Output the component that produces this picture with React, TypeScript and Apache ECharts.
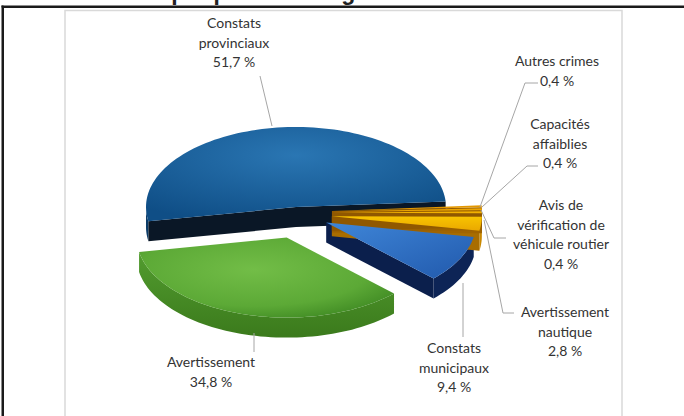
import React, { useEffect, useRef } from "react";
import * as echarts from "echarts";

// ---- Data ----
const categories = [
  "Constats\nprovinciaux",
  "Avertissement",
  "Constats\nmunicipaux",
  "Avertissement\nnautique",
  "Avis de\nvérification de\nvéhicule routier",
  "Capacités\naffaiblies",
  "Autres crimes",
];
const values = [51.7, 34.8, 9.4, 2.8, 0.4, 0.4, 0.4];
const titleText = "Graphique 4 – Catégories de constats";

// ---- Styles (not data) ----
const topFills: any[] = [
  { type: "radial", x: 0.5, y: 0.3, r: 0.75, colorStops: [{ offset: 0, color: "#2a76b3" }, { offset: 1, color: "#0f4e86" }] },
  { type: "radial", x: 0.45, y: 0.4, r: 0.65, colorStops: [{ offset: 0, color: "#72bd47" }, { offset: 0.7, color: "#5ca936" }, { offset: 1, color: "#428d25" }] },
  { type: "linear", x: 0, y: 0, x2: 1, y2: 1, colorStops: [{ offset: 0, color: "#3f86d8" }, { offset: 1, color: "#2159ac" }] },
  { type: "linear", x: 0, y: 0, x2: 0, y2: 1, colorStops: [{ offset: 0, color: "#f8c400" }, { offset: 1, color: "#eaa800" }] },
  "#f2b000",
  "#eca400",
  "#e49800",
];
const cutFills = ["#0a1726", "#2d5e18", "#0b1f4c", "#a86d00", "#a06400", "#9a6000", "#905800"];
const wallFills: any[] = [
  "#0c3c68",
  { type: "linear", x: 0, y: 0, x2: 0, y2: 1, colorStops: [{ offset: 0, color: "#529c2f" }, { offset: 1, color: "#3b7a1c" }] },
  "#0d2456",
  "#c98800",
  "#c07e00",
  "#b87600",
  "#b06e00",
];
const explode = [0, 32, 34, 36, 36, 36, 36];
const sag = [0, 0, 0, 6, 6, 6, 6];
const CX = 296, CY = 207, RX = 150, RY = 80, DEPTH = 20, START = 4;

// label positions (center x, top y) and leader lines
const labelPos = [
  { x: 234, y: 13, line: [[260, 76], [272, 126]] },
  { x: 211, y: 352, line: [[254, 333], [254, 352]] },
  { x: 454, y: 338, line: [[463, 283], [463, 337]] },
  { x: 565, y: 302, line: [[484, 220], [503, 313], [514, 313]] },
  { x: 561, y: 195, line: [[481, 210], [494, 238], [506, 238]] },
  { x: 560, y: 114, line: [[538, 166], [527, 166], [482, 207]] },
  { x: 557, y: 51, line: [[538, 83], [525, 83], [480, 207]] },
];

const fmt = (v: number) => v.toFixed(1).replace(".", ",") + " %";
const FONT = 'Lato, "Open Sans", sans-serif';

export default function App() {
  const ref = useRef<HTMLDivElement>(null);
  useEffect(() => {
    if (!ref.current) return;
    const chart = echarts.init(ref.current, null, { renderer: "svg" });
    const total = values.reduce((a, b) => a + b, 0);
    const rad = Math.PI / 180;

    const renderItem = (params: any, api: any) => {
      const i = params.dataIndex;
      const v = api.value(0);
      let acc = 0;
      for (let j = 0; j < i; j++) acc += values[j];
      const a0 = START + (acc / total) * 360;
      const a1 = a0 + (v / total) * 360;
      const mid = ((a0 + a1) / 2) * rad;
      const ox = CX + explode[i] * Math.cos(mid);
      const oy = CY - explode[i] * Math.sin(mid) + sag[i];
      const front = Math.round(-Math.sin(mid) * 5);
      const pt = (deg: number, dz = 0) => [ox + RX * Math.cos(deg * rad), oy - RY * Math.sin(deg * rad) + dz];
      const arcPts = (s: number, e: number, dz = 0) => {
        const n = Math.max(2, Math.ceil(Math.abs(e - s) / 2));
        const out: number[][] = [];
        for (let k = 0; k <= n; k++) out.push(pt(s + ((e - s) * k) / n, dz));
        return out;
      };
      const children: any[] = [];
      const intervals = [[-180, 0], [180, 360], [540, 720]];
      intervals.forEach(([lo, hi]) => {
        const s = Math.max(a0, lo), e = Math.min(a1, hi);
        if (e > s) {
          const pts = arcPts(s, e).concat(arcPts(e, s, DEPTH));
          children.push({ type: "polygon", z2: 1, shape: { points: pts }, style: { fill: wallFills[i] } });
        }
      });
      const addCut = (deg: number, normalDeg: number) => {
        if (Math.sin(normalDeg * rad) < 0) {
          const p = pt(deg);
          children.push({
            type: "polygon",
            z2: 2,
            shape: { points: [[ox, oy], p, [p[0], p[1] + DEPTH], [ox, oy + DEPTH]] },
            style: { fill: cutFills[i] },
          });
        }
      };
      addCut(a0, a0 - 90);
      addCut(a1, a1 + 90);
      const topPts = [[ox, oy]].concat(arcPts(a0, a1));
      children.push({ type: "polygon", z2: 20 + front, shape: { points: topPts }, style: { fill: topFills[i] } });
      return { type: "group", children };
    };

    const graphics: any[] = [
      {
        id: "title",
        type: "text",
        z: 1,
        style: {
          text: titleText,
          x: 338,
          y: -8,
          align: "center",
          textAlign: "center",
          verticalAlign: "middle",
          textVerticalAlign: "middle",
          font: 'bold 23px "Liberation Sans", Arial, sans-serif',
          fill: "#222",
        },
      },
      {
        id: "frameTop",
        type: "polygon",
        z: 2,
        shape: { points: [[1.5, 5.5], [684, 5.5], [684, 7.5], [1.5, 7.5]] },
        style: { fill: "#1a1a1a" },
      },
      {
        id: "frameLeft",
        type: "polygon",
        z: 2,
        shape: { points: [[1.5, 5.5], [3.5, 5.5], [3.5, 416], [1.5, 416]] },
        style: { fill: "#1a1a1a" },
      },
      {
        id: "innerBox",
        type: "rect",
        z: 1,
        shape: { x: 65, y: 10.5, width: 557, height: 430 },
        style: { fill: "none", stroke: "#d9d9d9", lineWidth: 1.5 },
      },
    ];
    categories.forEach((c, i) => {
      const lp = labelPos[i];
      graphics.push({
        id: "leader" + i,
        type: "polyline",
        z: 3,
        shape: { points: lp.line },
        style: { fill: "none", stroke: "#a6a6a6", lineWidth: 1 },
      });
      graphics.push({
        id: "label" + i,
        type: "text",
        z: 3,
        style: {
          text: c + "\n" + fmt(values[i]),
          x: lp.x,
          y: lp.y,
          align: "center",
          textAlign: "center",
          verticalAlign: "top",
          textVerticalAlign: "top",
          font: "14px " + FONT,
          lineHeight: 19.5,
          fill: "#333333",
        },
      });
    });

    chart.setOption({
      animation: false,
      backgroundColor: "#ffffff",
      graphic: graphics,
      series: [
        {
          type: "custom",
          coordinateSystem: "none",
          silent: true,
          z: 2,
          data: values.map((v, i) => ({ value: v, name: categories[i] })),
          renderItem,
        },
      ],
    });
    return () => chart.dispose();
  }, []);
  return (
    <div style={{ position: "fixed", left: 0, top: 0, width: 684, height: 416 }}>
      <div ref={ref} style={{ position: "absolute", left: 0, top: 0, width: 684, height: 416 }} />
      <div
        style={{
          position: "absolute",
          left: 1.5,
          top: 5.5,
          width: 682.5,
          height: 410.5,
          borderTop: "2px solid #1a1a1a",
          borderLeft: "2px solid #1a1a1a",
          boxSizing: "border-box",
          pointerEvents: "none",
        }}
      />
    </div>
  );
}
